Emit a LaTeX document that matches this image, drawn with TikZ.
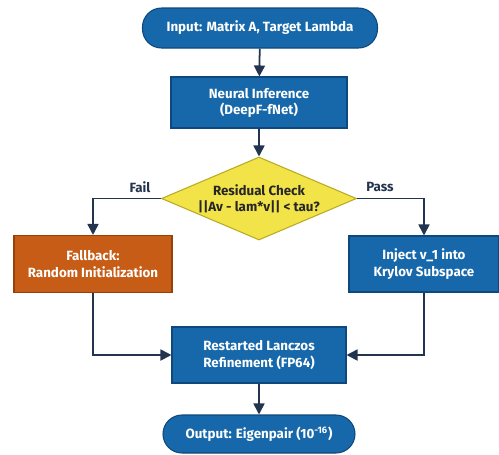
\documentclass[tikz,border=0pt]{standalone}
\usepackage{fontspec}
\setmainfont{Fira Sans}
\usetikzlibrary{shapes.geometric,arrows.meta}
\definecolor{boxblue}{RGB}{22,104,170}
\definecolor{boxblueline}{RGB}{14,72,125}
\definecolor{boxorange}{RGB}{198,92,22}
\definecolor{boxorangeline}{RGB}{150,64,12}
\definecolor{checkyellow}{RGB}{242,228,72}
\definecolor{checkyellowline}{RGB}{185,170,35}
\definecolor{linkcol}{RGB}{35,52,78}
\tikzset{
  txt/.style={font=\fontsize{7.6}{9.2}\selectfont\bfseries, align=center, text=white},
  pill/.style={txt, draw=boxblueline, fill=boxblue, line width=0.6pt, rounded corners=0.38cm, minimum height=0.8cm},
  procbox/.style={txt, draw=boxblueline, fill=boxblue, line width=0.6pt, minimum height=1.12cm},
  failbox/.style={procbox, draw=boxorangeline, fill=boxorange},
  checkbox/.style={txt, text=black!85, diamond, draw=checkyellowline, fill=checkyellow, line width=0.6pt, inner sep=0pt, aspect=2.35, minimum width=3.9cm, minimum height=1.66cm},
  link/.style={draw=linkcol, line width=1pt, -{Triangle[length=2.2mm,width=2.2mm]}},
  branch/.style={font=\fontsize{7.6}{9.2}\selectfont\bfseries, text=linkcol}
}
\begin{document}
\begin{tikzpicture}
			%%%%% START %%%%%
			\def\xmid{5.18}
			\def\xleft{1.86}
			\def\xright{8.48}
			\useasboundingbox (0,0) rectangle (9.98,-9.08);
			
			\node[pill, minimum width=4.7cm] (input) at (5.2,-0.56) {Input: Matrix A, Target Lambda};
			\node[procbox, minimum width=3.52cm, minimum height=1.02cm] (neural) at (\xmid,-2.05) {Neural Inference\\(DeepF-fNet)};
			\node[checkbox] (check) at (\xmid,-3.97) {Residual Check\\||Av - lam*v|| < tau?};
			\node[failbox, minimum width=3.16cm, minimum height=1.14cm] (fallback) at (\xleft,-5.28) {Fallback:\\Random Initialization};
			\node[procbox, minimum width=3.0cm] (inject) at (\xright,-5.28) {Inject v\_1 into\\Krylov Subspace};
			\node[procbox, minimum width=3.48cm] (refine) at (\xmid,-7.1) {Restarted Lanczos\\Refinement (FP64)};
			\node[pill, minimum width=3.84cm, minimum height=0.76cm] (output) at (\xmid,-8.68) {Output: Eigenpair (10\textsuperscript{-16})};
			
			\draw[link] (input) -- (neural);
			\draw[link] (neural) -- (check);
			\draw[link] (check.west) -| (fallback.north);
			\draw[link] (check.east) -| (inject.north);
			\draw[link] (fallback.south) |- (refine.west);
			\draw[link] (inject.south) |- (refine.east);
			\draw[link] (refine) -- (output);
			
			\node[branch] (fail) at (2.8,-3.74) {Fail};
			\node[branch] (pass) at (7.6,-3.74) {Pass};
			%%%%% END %%%%%
\end{tikzpicture}
\end{document}
